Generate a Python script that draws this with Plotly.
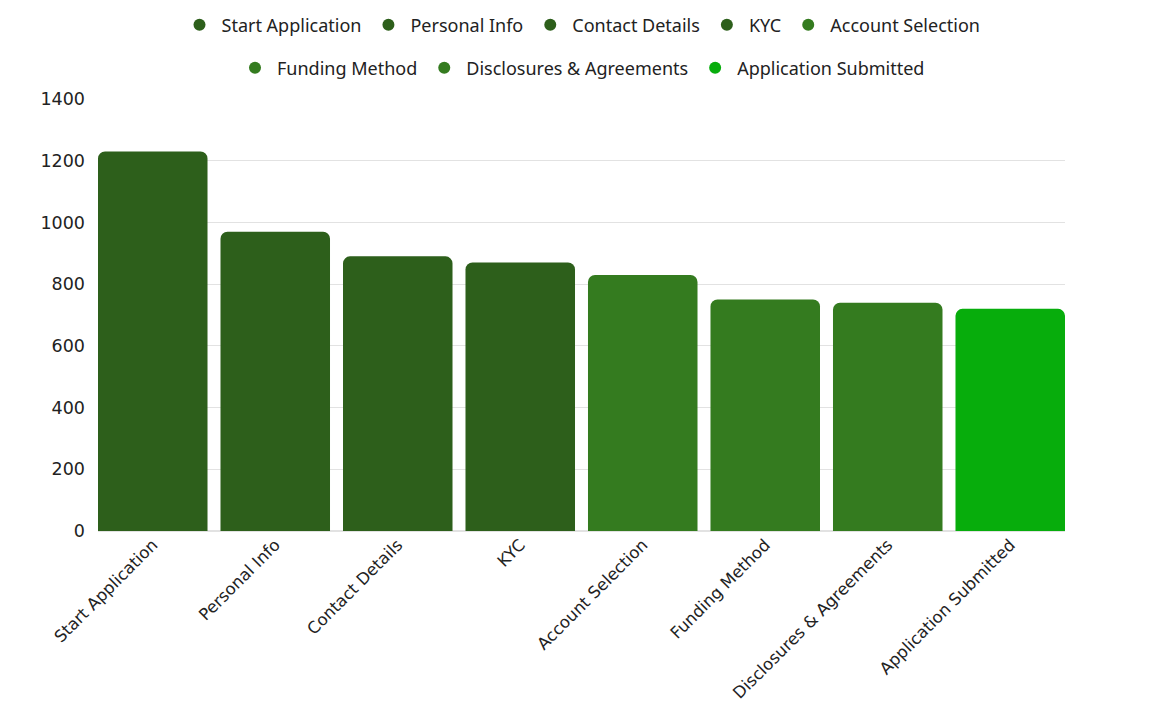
import plotly.graph_objects as go

categories = ["Start Application", "Personal Info", "Contact Details", "KYC",
              "Account Selection", "Funding Method", "Disclosures & Agreements",
              "Application Submitted"]
values = [1230, 970, 890, 870, 830, 750, 740, 720]
colors = ["#2d5f1b", "#2d5f1b", "#2d5f1b", "#2d5f1b",
          "#347b1f", "#347b1f", "#347b1f", "#07ad0c"]
y_ticks = [0, 200, 400, 600, 800, 1000, 1200, 1400]
legend_rows = ["legend"] * 5 + ["legend2"] * 3

W, H = 1150, 716
BARGAP = 0.106

fig = go.Figure()
for cat, val, col, lg in zip(categories, values, colors, legend_rows):
    fig.add_trace(go.Bar(
        x=[cat], y=[val], name=cat, legendgroup=cat, showlegend=False,
        marker=dict(color=col, cornerradius=7, line=dict(width=0)),
    ))
    fig.add_trace(go.Scatter(
        x=[None], y=[None], mode="markers", name=cat, legendgroup=cat, legend=lg,
        marker=dict(color=col, size=17, symbol="circle"),
    ))

leg_common = dict(orientation="h", x=0.5, xanchor="center", yanchor="middle",
                  yref="container", font=dict(family="Noto Sans", size=18, color="#222"),
                  itemsizing="constant", itemwidth=34, bgcolor="rgba(0,0,0,0)")

half = (1 - BARGAP) / 2
fig.update_layout(
    width=W, height=H,
    paper_bgcolor="white", plot_bgcolor="white",
    margin=dict(l=90, r=93, t=91, b=193, autoexpand=False),
    barmode="overlay",
    bargap=BARGAP,
    showlegend=True,
    legend=dict(leg_common, y=1 - 17 / H),
    legend2=dict(leg_common, y=1 - 60 / H),
    xaxis=dict(categoryorder="array", categoryarray=categories, automargin=False,
               range=[-half, len(categories) - 1 + half],
               tickangle=-45, tickfont=dict(family="DejaVu Sans", size=16.5, color="#222"),
               showgrid=False, showline=False, ticks=""),
    yaxis=dict(range=[0, 1400], tickvals=y_ticks, gridcolor="#e2e2e2", gridwidth=1,
               automargin=False, zeroline=True, zerolinecolor="#e2e2e2",
               tickfont=dict(family="DejaVu Sans", size=17.5, color="#222"),
               ticks="", ticklabelstandoff=12),
)

fig.write_html("out.html")
